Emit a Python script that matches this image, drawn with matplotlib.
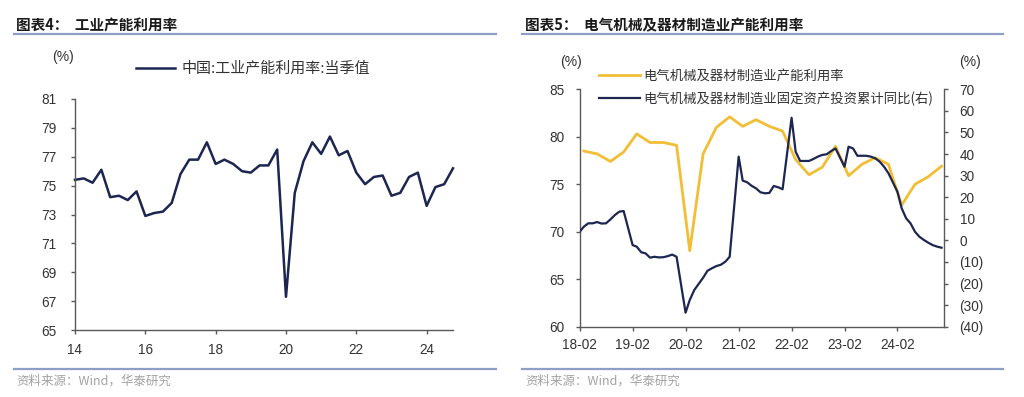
import matplotlib
matplotlib.use('Agg')
import matplotlib.pyplot as plt
from matplotlib.lines import Line2D
import pandas as pd

# ---------------- data ----------------
cu_quarters = [f"{y}Q{q}" for y in range(2014, 2025) for q in range(1, 5)]
cu_values = [75.4, 75.5, 75.2, 76.1,
             74.2, 74.3, 74.0, 74.6,
             72.9, 73.1, 73.2, 73.8,
             75.8, 76.8, 76.8, 78.0,
             76.5, 76.8, 76.5, 76.0,
             75.9, 76.4, 76.4, 77.5,
             67.3, 74.5, 76.7, 78.0,
             77.2, 78.4, 77.1, 77.4,
             75.9, 75.1, 75.6, 75.7,
             74.3, 74.5, 75.6, 75.9,
             73.6, 74.9, 75.1, 76.2]
left_xticks = [14, 16, 18, 20, 22, 24]
left_yticks = [65, 67, 69, 71, 73, 75, 77, 79, 81]

elec_cu_months = [f"{y}-{m:02d}" for y in range(2018, 2025) for m in (3, 6, 9, 12)]
elec_cu_values = [78.5, 78.2, 77.4, 78.4,
                  80.3, 79.4, 79.4, 79.1,
                  68.0, 78.2, 81.0, 82.1,
                  81.1, 81.8, 81.1, 80.6,
                  77.6, 76.0, 76.8, 79.0,
                  75.9, 77.1, 77.8, 77.1,
                  72.8, 75.0, 75.8, 76.9]

fai_months = [f"{y}-{m:02d}" for y in range(2018, 2025) for m in range(2, 13)]
fai_values = [4.0, 6.3, 7.9, 7.9, 8.5, 7.8, 7.9, 9.7, 11.7, 13.3, 13.6,
              -2.2, -2.9, -5.5, -6.0, -8.0, -7.6, -7.9, -7.8, -7.3, -6.6, -7.6,
              -33.5, -27.6, -23.0, -20.2, -17.3, -14.1, -12.9, -11.9, -11.3, -9.9, -7.6,
              38.8, 27.7, 26.9, 25.3, 24.1, 22.3, 21.8, 22.0, 25.2, 24.6, 23.7,
              56.8, 41.1, 36.8, 36.8, 36.8, 37.7, 38.8, 39.6, 39.9, 41.4, 42.6,
              34.1, 43.4, 42.6, 39.2, 39.2, 39.2, 38.8, 38.0, 36.5, 34.1, 31.1,
              22.5, 14.9, 10.2, 7.9, 4.0, 1.7, 0.2, -1.1, -2.2, -2.9, -3.4]
right_xtick_labels = ["18-02", "19-02", "20-02", "21-02", "22-02", "23-02", "24-02"]
right_left_yticks = [60, 65, 70, 75, 80, 85]
right_right_yticks = [-40, -30, -20, -10, 0, 10, 20, 30, 40, 50, 60, 70]

# ---------------- style ----------------
NAVY = '#1C2650'
GOLD = '#F2BE35'
RULE = '#8E9FC6'
SRC = '#A3A3A3'
AXC = '#595959'
TXT = '#333333'
CJK = ['Noto Sans CJK SC', 'DejaVu Sans']
NUM = ['Liberation Sans', 'DejaVu Sans']

W, H = 1024, 397
fig = plt.figure(figsize=(W / 100, H / 100), dpi=100)
fig.patch.set_facecolor('white')


def fx(px):
    return px / W


def fy(py):
    return 1 - py / H


def style_axes(ax):
    for s in ['top', 'right']:
        ax.spines[s].set_visible(False)
    for s in ['left', 'bottom', 'right']:
        ax.spines[s].set_color(AXC)
        ax.spines[s].set_linewidth(1.0)
    ax.tick_params(direction='out', length=3.2, width=1.0, color=AXC,
                   labelcolor=TXT, labelsize=9.8)
    for lab in ax.get_xticklabels() + ax.get_yticklabels():
        lab.set_family(NUM)


# ---------------- headers / footers ----------------
for x0, x1 in [(14, 496), (522, 1003)]:
    fig.add_artist(Line2D([fx(x0), fx(x1)], [fy(34), fy(34)], transform=fig.transFigure,
                          color=RULE, lw=1.6))
    fig.add_artist(Line2D([fx(x0), fx(x1)], [fy(369), fy(369)], transform=fig.transFigure,
                          color=RULE, lw=1.6))

fig.text(fx(16), fy(25), '图表4：  工业产能利用率', family=CJK, fontweight='bold',
         fontsize=10.5, color='#1a1a1a', va='center', ha='left')
fig.text(fx(525), fy(25), '图表5：  电气机械及器材制造业产能利用率', family=CJK, fontweight='bold',
         fontsize=10.5, color='#1a1a1a', va='center', ha='left')
fig.text(fx(16), fy(381), '资料来源：Wind，华泰研究', family=CJK, fontsize=9,
         color=SRC, va='center', ha='left')
fig.text(fx(525), fy(381), '资料来源：Wind，华泰研究', family=CJK, fontsize=9,
         color=SRC, va='center', ha='left')

# ---------------- left chart ----------------
axL = fig.add_axes([fx(75), fy(330), fx(453) - fx(75), fy(99) - fy(330)])
xq = [int(s[:4]) - 2000 + (int(s[-1]) - 1) / 4 for s in cu_quarters]
axL.plot(xq, cu_values, color=NAVY, lw=1.8, label='中国:工业产能利用率:当季值',
         clip_on=False)
axL.set_xlim(14, 24.75)
axL.set_ylim(65, 81)
axL.set_xticks(left_xticks)
axL.set_xticklabels([str(v) for v in left_xticks])
axL.set_yticks(left_yticks)
axL.set_yticklabels([str(v) for v in left_yticks])
style_axes(axL)
axL.tick_params(axis='y', pad=10)
axL.tick_params(axis='x', pad=6)
fig.text(fx(63), fy(57), '(%)', family=NUM, fontsize=10, color=TXT, ha='center', va='center')
axL.legend(loc='center left', bbox_to_anchor=(fx(136), fy(69)), bbox_transform=fig.transFigure,
           frameon=False, borderpad=0, borderaxespad=0, handlelength=2.6, handletextpad=0.45,
           prop={'family': CJK, 'size': 10.8}, labelcolor=TXT)

# ---------------- right chart ----------------
axR = fig.add_axes([fx(579.7), fy(326.7), fx(944) - fx(579.7), fy(89.3) - fy(326.7)])
axR2 = axR.twinx()
d_cu = pd.to_datetime(elec_cu_months)
d_fai = pd.to_datetime(fai_months)
l1, = axR.plot(d_cu, elec_cu_values, color=GOLD, lw=2.0, label='电气机械及器材制造业产能利用率')
l2, = axR2.plot(d_fai, fai_values, color=NAVY, lw=1.6,
                label='电气机械及器材制造业固定资产投资累计同比(右)')
axR.set_xlim(pd.Timestamp('2018-02-01'), pd.Timestamp('2024-12-18'))
axR.set_ylim(60, 85)
axR2.set_ylim(-40, 70)
tick_dates = pd.to_datetime(['20' + s[:2] + '-' + s[3:] for s in right_xtick_labels])
axR.set_xticks(tick_dates)
axR.set_xticklabels(right_xtick_labels)
axR.set_yticks(right_left_yticks)
axR.set_yticklabels([str(v) for v in right_left_yticks])
axR2.set_yticks(right_right_yticks)
axR2.set_yticklabels([f'({-v})' if v < 0 else str(v) for v in right_right_yticks])
style_axes(axR)
axR.spines['right'].set_visible(False)
for s in ['top', 'left', 'bottom']:
    axR2.spines[s].set_visible(False)
axR2.spines['right'].set_visible(True)
axR2.spines['right'].set_color(AXC)
axR2.spines['right'].set_linewidth(1.0)
axR2.tick_params(direction='out', length=3.2, width=1.0, color=AXC, labelcolor=TXT,
                 labelsize=9.8, pad=8)
for lab in axR2.get_yticklabels():
    lab.set_family(NUM)
axR.tick_params(axis='y', pad=8)
axR.tick_params(axis='x', pad=5)
fig.text(fx(571), fy(62), '(%)', family=NUM, fontsize=10, color=TXT, ha='center', va='center')
fig.text(fx(970), fy(62), '(%)', family=NUM, fontsize=10, color=TXT, ha='center', va='center')
axR2.legend(handles=[l1, l2], loc='center left', bbox_to_anchor=(fx(599), fy(87.5)),
            bbox_transform=fig.transFigure, frameon=False, borderpad=0, borderaxespad=0,
            handlelength=3.1, handletextpad=0.2, labelspacing=0.62,
            prop={'family': CJK, 'size': 9.6}, labelcolor=TXT)

fig.savefig('out.png', dpi=100, facecolor='white')
